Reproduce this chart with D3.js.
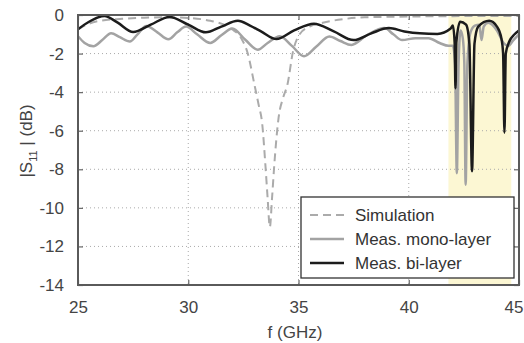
<!DOCTYPE html>
<html>
<head>
<meta charset="utf-8">
<script src="https://cdn.jsdelivr.net/npm/d3@7"></script>
<style>
  body { margin: 0; background: #fff; }
  svg { display: block; font-family: "Liberation Sans", Arial, sans-serif; }
</style>
</head>
<body>
<svg class="chart"></svg>
<script>
// frequency (GHz) / |S11| (dB)
var simF = [25, 25.5, 26, 27, 28, 29, 30, 31, 31.5, 32, 32.4, 32.7, 33.0, 33.2, 33.35, 33.5, 33.6, 33.7,
            33.8, 33.9, 34.1, 34.3, 34.5, 34.75, 35.05, 35.5, 36.1, 37, 38, 40, 42, 45];
var simS = [-0.75, -0.45, -0.3, -0.2, -0.14, -0.12, -0.15, -0.3, -0.45, -0.75, -1.2, -2.0, -3.6, -4.7, -5.6, -7.8, -9.5, -11.0,
            -9.5, -7.8, -5.3, -4.3, -3.6, -1.9, -1.0, -0.6, -0.4, -0.22, -0.12, -0.08, -0.06, -0.05];

var monoF = [25.0, 25.3, 25.7, 26.1, 26.5, 26.9, 27.35, 27.7, 28.1, 28.6, 29.1, 29.5, 29.9, 30.4, 31.0, 31.5, 32.0,
             32.6, 33.15, 33.6, 34.15, 34.7, 35.25, 35.8, 36.4, 36.9, 37.4, 38.1, 38.9, 39.3, 39.7, 40.3, 40.9,
             41.4, 41.8, 42.0, 42.1, 42.18, 42.26, 42.35, 42.45, 42.52, 42.58, 42.66, 42.8, 43.0, 43.2, 43.3,
             43.4, 43.6, 44.0, 44.3, 44.5, 44.75, 45.0];
var monoS = [-1.1, -1.45, -1.62, -1.3, -0.95, -1.15, -1.38, -1.0, -0.57, -0.9, -1.26, -0.9, -0.6, -1.0, -1.45, -1.05, -0.7,
             -1.3, -1.8, -1.45, -1.1, -1.6, -2.14, -1.65, -1.12, -1.35, -1.55, -1.05, -0.68, -1.0, -1.3, -1.2, -1.2,
             -1.45, -1.6, -1.6, -2.5, -8.2, -2.5, -0.8, -1.2, -2.5, -8.8, -2.5, -0.9, -0.55, -0.5, -1.3,
             -0.6, -0.4, -0.8, -1.45, -1.6, -1.3, -1.0];

var biF = [25.0, 25.5, 26.2, 26.8, 27.5, 28.3, 29.15, 30.0, 30.8, 31.5, 32.25, 32.8, 33.3, 34.0, 34.8, 35.7, 36.6,
           37.5, 38.3, 39.1, 39.8, 40.5, 41.3, 41.9, 42.0, 42.08, 42.12, 42.16, 42.33, 42.6, 42.75, 42.87, 42.98,
           43.15, 43.65, 44.0, 44.2, 44.28, 44.34, 44.4, 44.55, 44.8, 45.0];
var biS = [-0.74, -0.35, -0.05, -0.4, -0.88, -0.5, -0.1, -0.5, -0.9, -0.6, -0.3, -0.55, -0.85, -1.25, -0.8, -0.45, -0.85,
           -1.3, -0.95, -0.68, -0.85, -0.95, -0.98, -0.7, -0.55, -1.4, -3.8, -1.4, -0.35, -0.5, -1.5, -8.1, -1.5,
           -0.6, -0.3, -0.6, -1.2, -2.0, -6.1, -2.0, -1.4, -1.0, -0.8];

var xTicks = [25, 30, 35, 40, 45];
var yTicks = [0, -2, -4, -6, -8, -10, -12, -14];
var band = [41.8, 44.65];

var seriesNames = ["Simulation", "Meas. mono-layer", "Meas. bi-layer"];

var margin = {top: 15, right: 5, bottom: 58, left: 78},
    W = 524, H = 343,
    width = W - margin.left - margin.right,
    height = H - margin.top - margin.bottom;

var svg = d3.select(".chart").attr("width", W).attr("height", H);
var chart = svg.append("g")
    .attr("transform", "translate(" + margin.left + "," + margin.top + ")");

var x = d3.scaleLinear().domain([25, 45]).range([0, width]);
var y = d3.scaleLinear().domain([-14, 0]).range([height, 0]);

svg.append("defs").append("clipPath").attr("id", "clip")
  .append("rect").attr("width", width).attr("height", height);

// highlighted band
chart.append("rect")
    .attr("x", x(band[0])).attr("width", x(band[1]) - x(band[0]))
    .attr("y", 0).attr("height", height)
    .attr("fill", "#fcf7d3");

// dotted grid
chart.append("g").selectAll("line").data(yTicks.slice(1, -1)).enter().append("line")
    .attr("x1", 0).attr("x2", width)
    .attr("y1", function(d) { return y(d); }).attr("y2", function(d) { return y(d); })
    .attr("stroke", "#aaa").attr("stroke-width", 1).attr("stroke-dasharray", "1,3");
chart.append("g").selectAll("line").data(xTicks.slice(1, -1)).enter().append("line")
    .attr("y1", 0).attr("y2", height)
    .attr("x1", function(d) { return x(d); }).attr("x2", function(d) { return x(d); })
    .attr("stroke", "#aaa").attr("stroke-width", 1).attr("stroke-dasharray", "1,3");

// curves
var line = d3.line()
    .x(function(d) { return x(d[0]); })
    .y(function(d) { return y(d[1]); })
    .curve(d3.curveMonotoneX);

var curves = chart.append("g").attr("clip-path", "url(#clip)");
curves.append("path").datum(d3.zip(simF, simS))
    .attr("d", line).attr("fill", "none")
    .attr("stroke", "#ababab").attr("stroke-width", 2).attr("stroke-dasharray", "8,5");
curves.append("path").datum(d3.zip(monoF, monoS))
    .attr("d", line).attr("fill", "none")
    .attr("stroke", "#a3a3a3").attr("stroke-width", 2.5);
curves.append("path").datum(d3.zip(biF, biS))
    .attr("d", line).attr("fill", "none")
    .attr("stroke", "#1c1c1c").attr("stroke-width", 2.5);

// axes (ticks inside)
var xAxis = chart.append("g").attr("transform", "translate(0," + height + ")")
    .call(d3.axisBottom(x).tickValues(xTicks).tickSize(-5).tickPadding(16));
var yAxis = chart.append("g")
    .call(d3.axisLeft(y).tickValues(yTicks).tickSize(-5).tickPadding(14).tickFormat(d3.format("d")));
chart.append("g").attr("transform", "translate(" + width + ",0)")
    .call(d3.axisRight(y).tickValues(yTicks).tickSize(-5).tickFormat(""));
chart.append("g")
    .call(d3.axisTop(x).tickValues(xTicks).tickSize(-5).tickFormat(""));

chart.selectAll(".domain").remove();
chart.selectAll(".tick line").attr("stroke", "#666").attr("stroke-width", 1.2);
chart.selectAll(".tick text")
    .attr("fill", "#444").attr("font-size", 17)
    .attr("font-family", "'Liberation Sans', Arial, sans-serif");
yAxis.selectAll(".tick text").text(function(d) { return d === 0 ? "0" : "-" + Math.abs(d); });
// last x label sits against the page edge
xAxis.selectAll(".tick text").filter(function(d) { return d === 45; })
    .attr("text-anchor", "end").attr("dx", 4 + "px");

// frame
chart.append("rect").attr("width", width).attr("height", height)
    .attr("fill", "none").attr("stroke", "#5a5a5a").attr("stroke-width", 2);

// axis labels
svg.append("text")
    .attr("x", 295).attr("y", 338)
    .attr("text-anchor", "middle").attr("font-size", 17).attr("fill", "#444")
    .text("f (GHz)");

var yl = svg.append("text")
    .attr("transform", "translate(32,141) rotate(-90)")
    .attr("text-anchor", "middle").attr("font-size", 17).attr("fill", "#444");
yl.append("tspan").text("|S");
yl.append("tspan").attr("font-size", 11).attr("dy", 5).text("11");
yl.append("tspan").attr("dy", -5).text(" | (dB)");

// legend
var legend = chart.append("g").attr("transform", "translate(" + (301 - margin.left) + "," + (197 - margin.top) + ")");
legend.append("rect").attr("width", 213).attr("height", 81)
    .attr("fill", "#fff").attr("stroke", "#333").attr("stroke-width", 1.3);
var legStyle = [
    {stroke: "#ababab", dash: "8,5", w: 2},
    {stroke: "#a3a3a3", dash: null, w: 2.5},
    {stroke: "#1c1c1c", dash: null, w: 2.5}
];
var items = legend.selectAll(".item").data(seriesNames).enter().append("g")
    .attr("class", "item")
    .attr("transform", function(d, i) { return "translate(0," + (18 + i * 24) + ")"; });
items.append("line")
    .attr("x1", 9).attr("x2", 43)
    .attr("stroke", function(d, i) { return legStyle[i].stroke; })
    .attr("stroke-width", function(d, i) { return legStyle[i].w; })
    .attr("stroke-dasharray", function(d, i) { return legStyle[i].dash; });
items.append("text")
    .attr("x", 54).attr("y", 6)
    .attr("font-size", 17).attr("fill", "#333")
    .text(function(d) { return d; });
</script>
</body>
</html>
